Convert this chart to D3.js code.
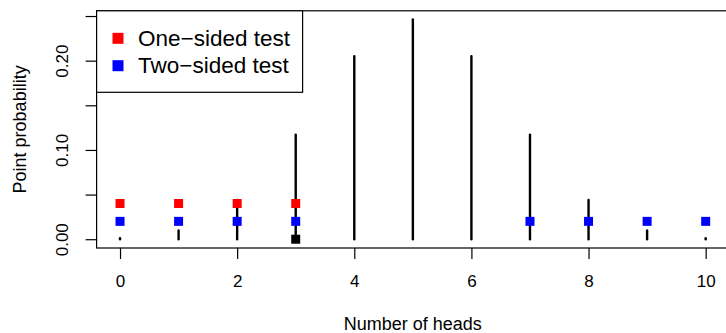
<!DOCTYPE html>
<html>
<head>
<meta charset="utf-8">
<script src="https://cdn.jsdelivr.net/npm/d3@7/dist/d3.min.js"></script>
<style>
  html, body { margin: 0; padding: 0; background: #fff; }
  svg { display: block; font-family: "Liberation Sans", Arial, Helvetica, sans-serif; }
</style>
</head>
<body>
<svg id="chart" width="726" height="333"></svg>
<script>
// ---- data ----
const heads = [0, 1, 2, 3, 4, 5, 6, 7, 8, 9, 10];
const pointProb = [0.001, 0.0098, 0.0439, 0.1172, 0.2051, 0.2461, 0.2051, 0.1172, 0.0439, 0.0098, 0.001];
const oneSidedX = [0, 1, 2, 3];
const oneSidedLevel = 0.04;
const twoSidedX = [0, 1, 2, 3, 7, 8, 9, 10];
const twoSidedLevel = 0.02;
const observedX = [3];
const observedY = [0];
const xTicks = [0, 2, 4, 6, 8, 10];
const yTicks = [0, 0.05, 0.10, 0.15, 0.20, 0.25];
const yLabelTicks = [0, 0.10, 0.20];
const legendLabels = ["One\u2212sided test", "Two\u2212sided test"];
const legendColors = ["#ff0000", "#0000ff"];
const xTitle = "Number of heads";
const yTitle = "Point probability";

// ---- layout ----
const svg = d3.select("#chart");
const x = d3.scaleLinear().domain([-0.4, 10.4]).range([96.6, 729.1]);
const y = d3.scaleLinear().domain([-0.00984, 0.25586]).range([248, 10.8]);
const tickFont = 17, titleFont = 18;

// box
svg.append("rect")
  .attr("x", x.range()[0]).attr("y", y.range()[1])
  .attr("width", x.range()[1] - x.range()[0])
  .attr("height", y.range()[0] - y.range()[1])
  .attr("fill", "none").attr("stroke", "#000").attr("stroke-width", 1.2);

// x axis
const xAxis = d3.axisBottom(x).tickValues(xTicks).tickSize(11)
  .tickFormat(d3.format("d"));
const gx = svg.append("g").attr("transform", `translate(0,${y.range()[0]})`).call(xAxis);
gx.select(".domain").remove();
gx.selectAll(".tick line").attr("stroke", "#000").attr("stroke-width", 1.2);
gx.selectAll(".tick text").attr("font-size", tickFont).attr("fill", "#000")
  .attr("dy", null).attr("y", 39.3);

// y axis
const yAxis = d3.axisLeft(y).tickValues(yTicks).tickSize(11)
  .tickFormat(d => yLabelTicks.some(v => Math.abs(v - d) < 1e-9) ? d3.format(".2f")(d) : "");
const gy = svg.append("g").attr("transform", `translate(${x.range()[0]},0)`).call(yAxis);
gy.select(".domain").remove();
gy.selectAll(".tick line").attr("stroke", "#000").attr("stroke-width", 1.2);
gy.selectAll(".tick text")
  .attr("font-size", tickFont).attr("fill", "#000")
  .attr("x", null).attr("dy", null)
  .attr("text-anchor", "middle")
  .attr("transform", "translate(-28.4,0) rotate(-90)")
  .attr("y", 0);

// axis titles
svg.append("text")
  .attr("x", (x.range()[0] + x.range()[1]) / 2).attr("y", 330)
  .attr("text-anchor", "middle").attr("font-size", titleFont).attr("fill", "#000")
  .text(xTitle);
svg.append("text")
  .attr("transform", `translate(26,${(y.range()[0] + y.range()[1]) / 2}) rotate(-90)`)
  .attr("text-anchor", "middle").attr("font-size", titleFont).attr("fill", "#000")
  .text(yTitle);

// vertical probability lines
svg.append("g").selectAll("line").data(heads).join("line")
  .attr("x1", d => x(d)).attr("x2", d => x(d))
  .attr("y1", y(0)).attr("y2", (d, i) => y(pointProb[i]))
  .attr("stroke", "#000").attr("stroke-width", 2.4).attr("stroke-linecap", "round");

// squares
const sq = 9;
function squares(xs, yv, color) {
  svg.append("g").selectAll("rect").data(xs).join("rect")
    .attr("x", d => x(d) - sq / 2)
    .attr("y", (d, i) => (Array.isArray(yv) ? y(yv[i]) : y(yv)) - sq / 2)
    .attr("width", sq).attr("height", sq).attr("fill", color);
}
squares(oneSidedX, oneSidedLevel, "#ff0000");
squares(twoSidedX, twoSidedLevel, "#0000ff");
squares(observedX, observedY, "#000000");

// legend
const lg = svg.append("g");
lg.append("rect")
  .attr("x", x.range()[0]).attr("y", y.range()[1])
  .attr("width", 206).attr("height", 81.5)
  .attr("fill", "#fff").attr("stroke", "#000").attr("stroke-width", 1.2);
legendLabels.forEach((lab, i) => {
  const cy = 38.3 + i * 27.4;
  lg.append("rect").attr("x", 112.5).attr("y", cy - 5.5).attr("width", 11).attr("height", 11)
    .attr("fill", legendColors[i]);
  lg.append("text").attr("x", 138).attr("y", cy).attr("dominant-baseline", "central")
    .attr("font-size", 22.5).attr("fill", "#000").text(lab);
});
</script>
</body>
</html>
